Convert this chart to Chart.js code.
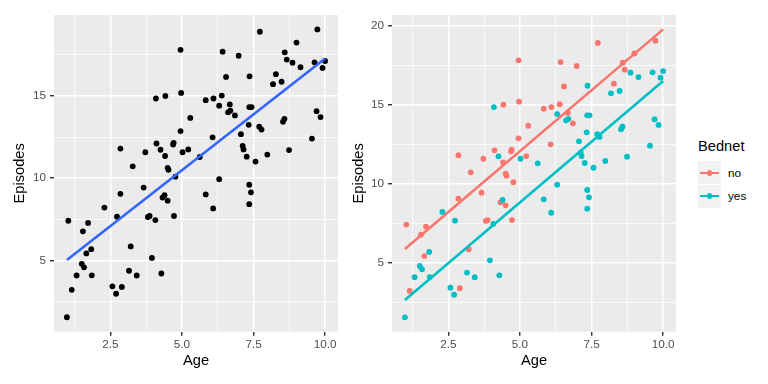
<!DOCTYPE html>
<html>
<head>
<meta charset="utf-8">
<script src="https://cdn.jsdelivr.net/npm/chart.js@4.4.0/dist/chart.umd.min.js"></script>
<style>
  body { margin: 0; background: #fff; width: 768px; height: 384px; position: relative; overflow: hidden;
         font-family: "Liberation Sans", Arial, sans-serif; }
  canvas { position: absolute; top: 0; }
  #left { left: 0; }
  #right { left: 345px; }
  .abs { position: absolute; }
  .leg-title { left: 698px; top: 139.3px; font-size: 14.67px; line-height: 1; color: #000; }
  .leg-key { left: 698px; width: 23px; height: 23px; background: #F2F2F2; }
  .leg-line { left: 2px; top: 10.5px; width: 19px; height: 2.4px; }
  .leg-dot { left: 8.6px; top: 8.8px; width: 5.8px; height: 5.8px; border-radius: 50%; }
  .leg-label { left: 728px; font-size: 11.73px; line-height: 1; color: #000; }
</style>
</head>
<body>
<canvas id="left" width="345" height="384"></canvas>
<canvas id="right" width="340" height="384"></canvas>

<div class="abs leg-title">Bednet</div>
<div class="abs leg-key" style="top:161px"><div class="abs leg-line" style="background:#F8766D"></div><div class="abs leg-dot" style="background:#F8766D"></div></div>
<div class="abs leg-key" style="top:184.5px"><div class="abs leg-line" style="background:#00BFC4"></div><div class="abs leg-dot" style="background:#00BFC4"></div></div>
<div class="abs leg-label" style="top:166.5px">no</div>
<div class="abs leg-label" style="top:190px">yes</div>

<script>
// Bednet = no
const noAge = [4.95, 4.97, 4.42, 5.29, 4.95, 2.85, 4.11, 4.71, 4.69, 4.41, 5.22, 3.72, 3.28, 4.50, 4.53,
               4.77, 7.72, 9.73, 9.00, 8.59, 6.42, 6.98, 8.66, 6.54, 8.28, 5.83, 6.10, 6.39, 6.67, 6.85,
               6.07, 3.66, 2.85, 4.32, 4.50, 3.81, 3.87, 4.72, 1.03, 1.72, 1.54, 3.21, 1.66, 1.15, 2.90];
const noEpisodes = [17.81, 15.19, 15.00, 13.67, 12.87, 11.80, 12.11, 12.15, 12.05, 11.35, 11.75, 11.58, 10.72, 10.63, 10.51,
                    10.09, 18.91, 19.05, 18.25, 17.66, 17.70, 17.45, 17.22, 16.16, 16.33, 14.75, 14.85, 15.03, 14.49, 13.82,
                    12.49, 9.43, 9.05, 8.82, 8.63, 7.64, 7.70, 7.70, 7.41, 7.28, 6.77, 5.85, 5.42, 3.21, 3.38];

// Bednet = yes
const yesAge = [4.09, 4.25, 5.02, 5.62, 8.86, 9.14, 9.63, 10.0, 9.91, 7.36, 8.18, 8.48, 6.30, 6.61, 6.69,
                7.35, 7.43, 9.70, 9.84, 8.58, 8.53, 7.33, 7.70, 7.78, 7.06, 9.54, 7.12, 7.15, 8.74, 7.26,
                7.98, 7.57, 4.39, 2.29, 2.73, 4.07, 1.83, 3.95, 1.50, 1.58, 1.32, 1.85, 3.15, 3.42, 4.28,
                2.57, 2.70, 0.98, 6.30, 5.83, 6.09, 7.35, 7.41, 7.35];
const yesEpisodes = [14.85, 11.73, 11.58, 11.29, 17.03, 16.75, 17.05, 17.13, 16.71, 16.20, 15.72, 15.87, 14.41, 14.01, 14.11,
                     14.33, 14.33, 14.08, 13.72, 13.61, 13.44, 13.25, 13.13, 12.96, 12.68, 12.41, 11.96, 11.75, 11.71, 11.31,
                     11.44, 11.01, 8.97, 8.21, 7.66, 7.45, 5.68, 5.15, 4.79, 4.58, 4.08, 4.09, 4.37, 4.08, 4.20,
                     3.42, 2.97, 1.54, 9.94, 9.01, 8.16, 9.60, 9.14, 8.42];

// fitted lines (end points)
const fitAge = [0.98, 10.0];
const fitAll = [5.02, 17.28];
const fitNo = [5.87, 19.77];
const fitYes = [2.64, 16.50];

// axes
const xMajor = [2.5, 5.0, 7.5, 10.0];
const xMinor = [1.25, 3.75, 6.25, 8.75];
const yMajorLeft = [5, 10, 15];
const yMajorRight = [5, 10, 15, 20];
const yMinor = [2.5, 7.5, 12.5, 17.5];

Chart.defaults.font.family = '"Liberation Sans", Arial, sans-serif';
Chart.defaults.animation = false;

const pts = (xs, ys) => xs.map((x, i) => ({ x: x, y: ys[i] }));
const isIn = (arr, v) => arr.some(a => Math.abs(a - v) < 1e-6);

const panelBg = {
    id: 'panelBg',
    beforeDraw(chart) {
        const { ctx, chartArea: a } = chart;
        ctx.save();
        ctx.fillStyle = '#EBEBEB';
        ctx.fillRect(a.left, a.top, a.right - a.left, a.bottom - a.top);
        ctx.restore();
    },
};

function axis(major, minor, min, max, opts) {
    return {
        type: 'linear',
        position: opts.position,
        min: min,
        max: max,
        afterBuildTicks: scale => {
            scale.ticks = major.concat(minor).sort((a, b) => a - b).map(v => ({ value: v }));
        },
        afterFit: opts.afterFit,
        border: { display: false },
        grid: {
            color: '#FFFFFF',
            lineWidth: c => (c.tick && isIn(major, c.tick.value)) ? 1.42 : 0.71,
            tickColor: c => (c.tick && isIn(major, c.tick.value)) ? '#333333' : 'rgba(0,0,0,0)',
            tickLength: 4,
            tickWidth: 1.42,
        },
        ticks: {
            autoSkip: false,
            maxRotation: 0,
            minRotation: 0,
            padding: opts.tickPad,
            color: '#4D4D4D',
            font: { size: 11.73 },
            callback: v => isIn(major, v) ? (opts.fixed ? v.toFixed(1) : String(v)) : '',
        },
        title: {
            display: true,
            text: opts.title,
            color: '#000000',
            font: { size: 14.67 },
            padding: opts.titlePad,
        },
    };
}

function panel(id, datasets, yMin, yMax, yMajor, yWidth, padRight, yTitlePad) {
    return new Chart(document.getElementById(id), {
        type: 'scatter',
        data: { datasets: datasets },
        options: {
            responsive: false,
            layout: { padding: { left: 0, right: padRight, top: 15, bottom: 0 } },
            plugins: { legend: { display: false }, tooltip: { enabled: false } },
            scales: {
                x: axis(xMajor, xMinor, 0.53, 10.45, {
                    position: 'bottom', fixed: true, title: 'Age', tickPad: 2,
                    titlePad: { top: 0, bottom: 14.5 },
                    afterFit: s => { s.height = 52.3; },
                }),
                y: axis(yMajor, yMinor, yMin, yMax, {
                    position: 'left', fixed: false, title: 'Episodes', tickPad: 4,
                    titlePad: { top: yTitlePad, bottom: 0 },
                    afterFit: s => { s.width = yWidth; },
                }),
            },
        },
        plugins: [panelBg],
    });
}

function lineSet(ys, color) {
    return { data: pts(fitAge, ys), showLine: true, borderColor: color, borderWidth: 2.6, pointRadius: 0 };
}
function pointSet(xs, ys, color) {
    return { data: pts(xs, ys), backgroundColor: color, borderWidth: 0, pointRadius: 2.9, pointHoverRadius: 2.9 };
}

panel('left', [
    lineSet(fitAll, '#3366FF'),
    pointSet(noAge.concat(yesAge), noEpisodes.concat(yesEpisodes), '#000000'),
], 0.66, 19.93, yMajorLeft, 54, 7, 11.5);

panel('right', [
    lineSet(fitNo, '#F8766D'),
    lineSet(fitYes, '#00BFC4'),
    pointSet(yesAge, yesEpisodes, '#00BFC4'),
    pointSet(noAge, noEpisodes, '#F8766D'),
], 0.63, 20.68, yMajorRight, 47, 9, 4.8);
</script>
</body>
</html>
